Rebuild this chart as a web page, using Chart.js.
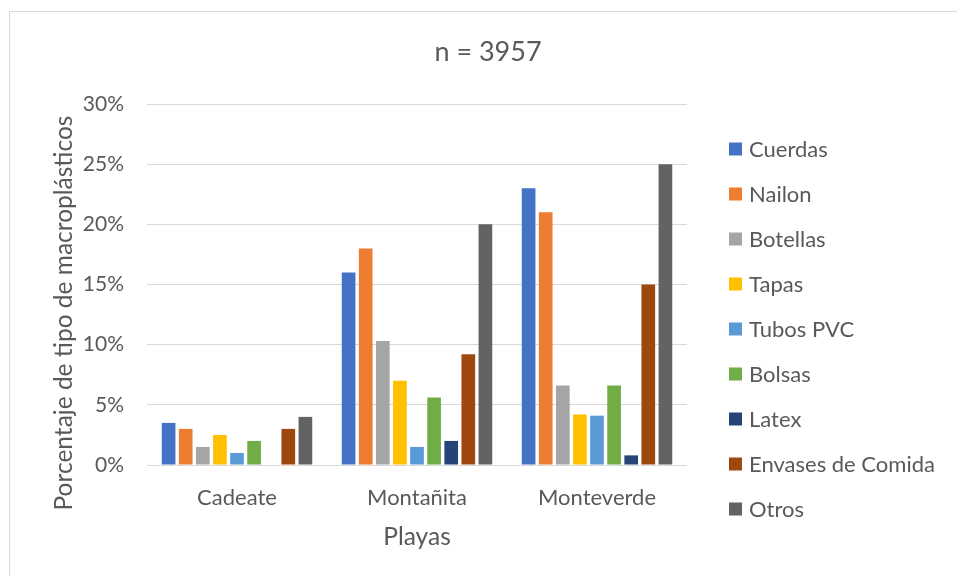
<!DOCTYPE html>
<html>
<head>
<meta charset="utf-8">
<script src="https://cdn.jsdelivr.net/npm/chart.js@4.4.0/dist/chart.umd.min.js"></script>
<style>
  body { margin: 0; background: #fff; }
  #frame { position: absolute; left: 9px; top: 11px; width: 1000px; height: 600px;
           border-left: 1px solid #d9d9d9; border-top: 1px solid #d9d9d9; }
  #wrap { position: absolute; left: 0; top: 0; width: 957px; height: 576px; }
</style>
</head>
<body>
<div id="frame"></div>
<div id="wrap"><canvas id="myChart" width="957" height="576"></canvas></div>
<script>
// playas y porcentaje por tipo de macroplástico
var playas = ["Cadeate", "Montañita", "Monteverde"];
var tipos = ["Cuerdas", "Nailon", "Botellas", "Tapas", "Tubos PVC", "Bolsas", "Latex", "Envases de Comida", "Otros"];
var colores = ["#4472C4", "#ED7D31", "#A5A5A5", "#FFC000", "#5B9BD5", "#70AD47", "#264478", "#9E480E", "#636363"];

var cuerdas  = [3.5, 16, 23];
var nailon   = [3, 18, 21];
var botellas = [1.5, 10.3, 6.6];
var tapas    = [2.5, 7, 4.2];
var tubosPvc = [1, 1.5, 4.1];
var bolsas   = [2, 5.6, 6.6];
var latex    = [0, 2, 0.8];
var envases  = [3, 9.2, 15];
var otros    = [4, 20, 25];

var yTicks = [0, 5, 10, 15, 20, 25, 30];

var series = [cuerdas, nailon, botellas, tapas, tubosPvc, bolsas, latex, envases, otros];
var textColor = "#595959";
var fontFam = "Lato, 'Noto Sans', sans-serif";

// título, título del eje Y y leyenda a la derecha (una fila por tipo)
var extras = {
  id: "extras",
  afterDraw: function (chart) {
    var c = chart.ctx;
    c.save();
    c.fillStyle = textColor;
    c.font = "27px " + fontFam;
    c.textAlign = "center";
    c.textBaseline = "middle";
    c.fillText("n = 3957", 488, 52);

    c.save();
    c.translate(64, 313);
    c.rotate(-Math.PI / 2);
    c.font = "24.5px " + fontFam;
    c.fillText("Porcentaje de tipo de macroplásticos", 0, 0);
    c.restore();

    var x = chart.chartArea.right + 42;
    var y0 = 149, step = 45;
    c.font = "22px " + fontFam;
    c.textAlign = "left";
    chart.data.datasets.forEach(function (ds, i) {
      var y = y0 + i * step;
      c.fillStyle = ds.backgroundColor;
      c.fillRect(x, y - 6.5, 13, 13);
      c.fillStyle = textColor;
      c.fillText(ds.label, x + 20, y + 1);
    });
    c.restore();
  }
};

var ctx = document.getElementById("myChart").getContext("2d");
var myChart = new Chart(ctx, {
  type: "bar",
  data: {
    labels: playas,
    datasets: series.map(function (vals, i) {
      return {
        label: tipos[i],
        data: vals,
        backgroundColor: colores[i],
        categoryPercentage: 0.855,
        barPercentage: 0.8
      };
    })
  },
  plugins: [extras],
  options: {
    responsive: false,
    animation: false,
    layout: { padding: { left: 0, right: 270, top: 104, bottom: 24 } },
    plugins: {
      legend: { display: false },
      tooltip: { enabled: false }
    },
    scales: {
      x: {
        afterFit: function (axis) { axis.height = 87; },
        grid: { display: false, drawTicks: false },
        border: { display: false },
        ticks: { color: textColor, font: { family: fontFam, size: 22 }, padding: 20, maxRotation: 0 },
        title: {
          display: true,
          text: "Playas",
          color: textColor,
          font: { family: fontFam, size: 24.5 },
          padding: { top: 12, bottom: 0 }
        }
      },
      y: {
        min: 0,
        max: 30,
        afterFit: function (axis) { axis.width = 147; },
        afterBuildTicks: function (axis) {
          axis.ticks = yTicks.map(function (v) { return { value: v }; });
        },
        grid: { color: "#d9d9d9", lineWidth: 1, drawTicks: false },
        border: { display: false },
        ticks: {
          color: textColor,
          font: { family: fontFam, size: 21 },
          padding: 23,
          callback: function (v) { return v + "%"; }
        }
      }
    }
  }
});
</script>
</body>
</html>
